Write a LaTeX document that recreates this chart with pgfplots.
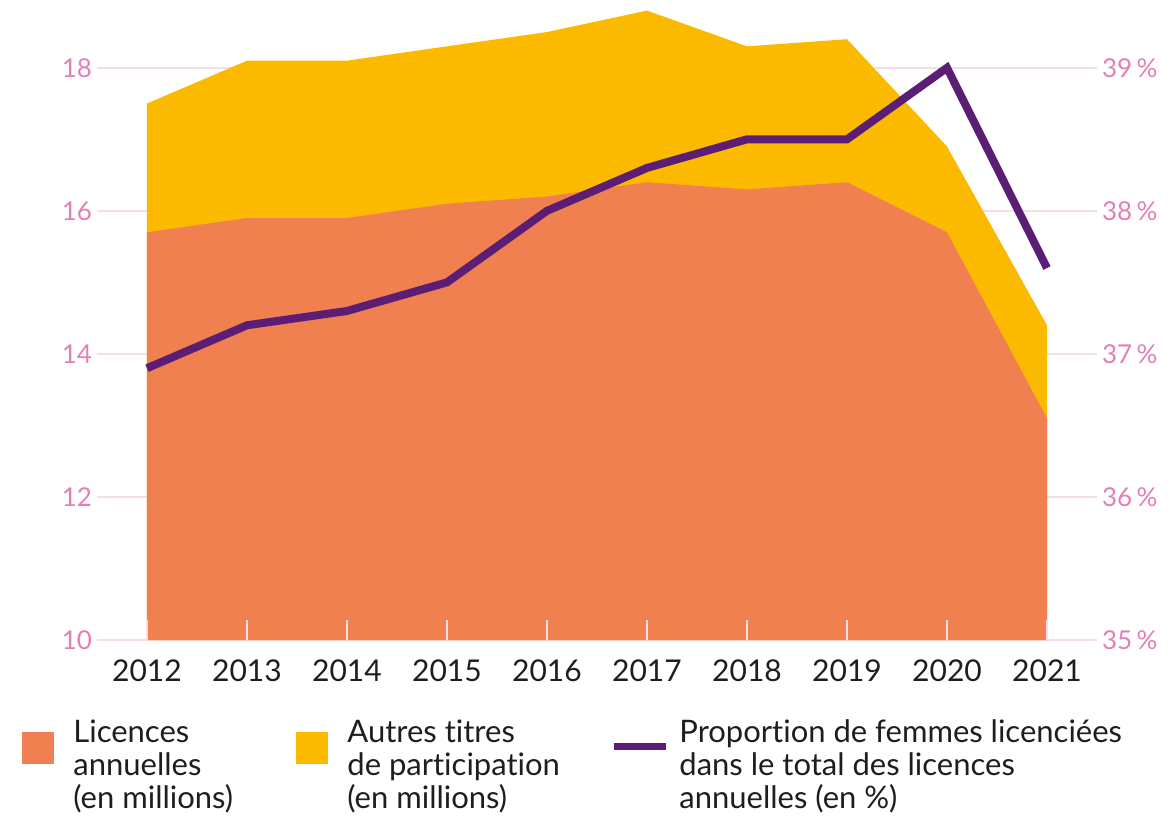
\documentclass[border=0pt]{standalone}
\usepackage{pgfplots}
\pgfplotsset{compat=1.18}
\usepackage{fontspec}
\setmainfont{Lato}[Ligatures=NoCommon]
\definecolor{orangeA}{RGB}{240,128,80}
\definecolor{jauneA}{RGB}{251,186,0}
\definecolor{violetA}{RGB}{92,30,116}
\definecolor{roseT}{RGB}{226,128,182}
\definecolor{roseG}{RGB}{245,222,236}
\definecolor{texte}{RGB}{30,30,30}
\begin{document}
\begin{tikzpicture}
\useasboundingbox (-48.5pt,-88pt) rectangle (539pt,320pt);
% axe gauche : licences et autres titres (millions)
\begin{axis}[
  at={(0,0)}, anchor=south west,
  scale only axis, width=500pt, height=316.5pt,
  xmin=2011.5, xmax=2021.5,
  ymin=10, ymax=18.85,
  axis line style={draw=none},
  xtick={2012,2013,2014,2015,2016,2017,2018,2019,2020,2021},
  xticklabels={2012,2013,2014,2015,2016,2017,2018,2019,2020,2021},
  xtick style={draw=none},
  ytick={10,12,14,16,18},
  yticklabels={10,12,14,16,18},
  ytick style={draw=none},
  ymajorgrids, grid style={roseG, line width=0.8pt},
  xticklabel style={font=\fontsize{15}{18}\selectfont, text=texte, yshift=-6.5pt},
  yticklabel style={font=\fontsize{13}{16}\selectfont, text=roseT, xshift=1pt},
  clip=true,
]
  % total (licences + autres titres)
  \addplot[fill=jauneA, draw=none] coordinates {
    (2012,17.5) (2013,18.1) (2014,18.1) (2015,18.3) (2016,18.5)
    (2017,18.8) (2018,18.3) (2019,18.4) (2020,16.9) (2021,14.4)
  } \closedcycle;
  % licences annuelles
  \addplot[fill=orangeA, draw=none] coordinates {
    (2012,15.7) (2013,15.9) (2014,15.9) (2015,16.1) (2016,16.2)
    (2017,16.4) (2018,16.3) (2019,16.4) (2020,15.7) (2021,13.1)
  } \closedcycle;
\end{axis}
% axe droit : proportion de femmes (%)
\begin{axis}[
  at={(0,0)}, anchor=south west,
  scale only axis, width=500pt, height=316.5pt,
  xmin=2011.5, xmax=2021.5,
  ymin=35, ymax=39.425,
  axis y line*=right,
  axis line style={draw=none},
  xtick={2012,2013,2014,2015,2016,2017,2018,2019,2020,2021},
  xticklabels={},
  xtick pos=bottom, xtick align=inside,
  major tick length=10pt,
  xtick style={draw=roseG, line width=0.8pt},
  ytick={35,36,37,38,39},
  yticklabels={35\,\%,36\,\%,37\,\%,38\,\%,39\,\%},
  ytick style={draw=none},
  yticklabel style={font=\fontsize{13}{16}\selectfont, text=roseT, xshift=-1pt},
  clip=false,
]
  \addplot[violetA, line width=4pt, line join=miter, mark=none] coordinates {
    (2012,36.9) (2013,37.2) (2014,37.3) (2015,37.5) (2016,38.0)
    (2017,38.3) (2018,38.5) (2019,38.5) (2020,39.0) (2021,37.6)
  };
\end{axis}
% légende
\fill[orangeA] (-37.5pt,-46pt) rectangle (-21.5pt,-62pt);
\node[anchor=north west, inner sep=0pt, align=left, text=texte,
  font=\fontsize{15.5}{16.5}\selectfont] at (-12pt,-39.5pt)
  {Licences\\annuelles\\(en millions)};
\fill[jauneA] (99.5pt,-46pt) rectangle (115.5pt,-62pt);
\node[anchor=north west, inner sep=0pt, align=left, text=texte,
  font=\fontsize{15.5}{16.5}\selectfont] at (125pt,-39.5pt)
  {Autres titres\\de participation\\(en millions)};
\draw[violetA, line width=3.5pt] (258.5pt,-53pt) -- (284.5pt,-53pt);
\node[anchor=north west, inner sep=0pt, align=left, text=texte,
  font=\fontsize{15.5}{16.5}\selectfont] at (291pt,-39.5pt)
  {Proportion de femmes licenciées\\dans le total des licences\\annuelles (en \%)};
\end{tikzpicture}
\end{document}
